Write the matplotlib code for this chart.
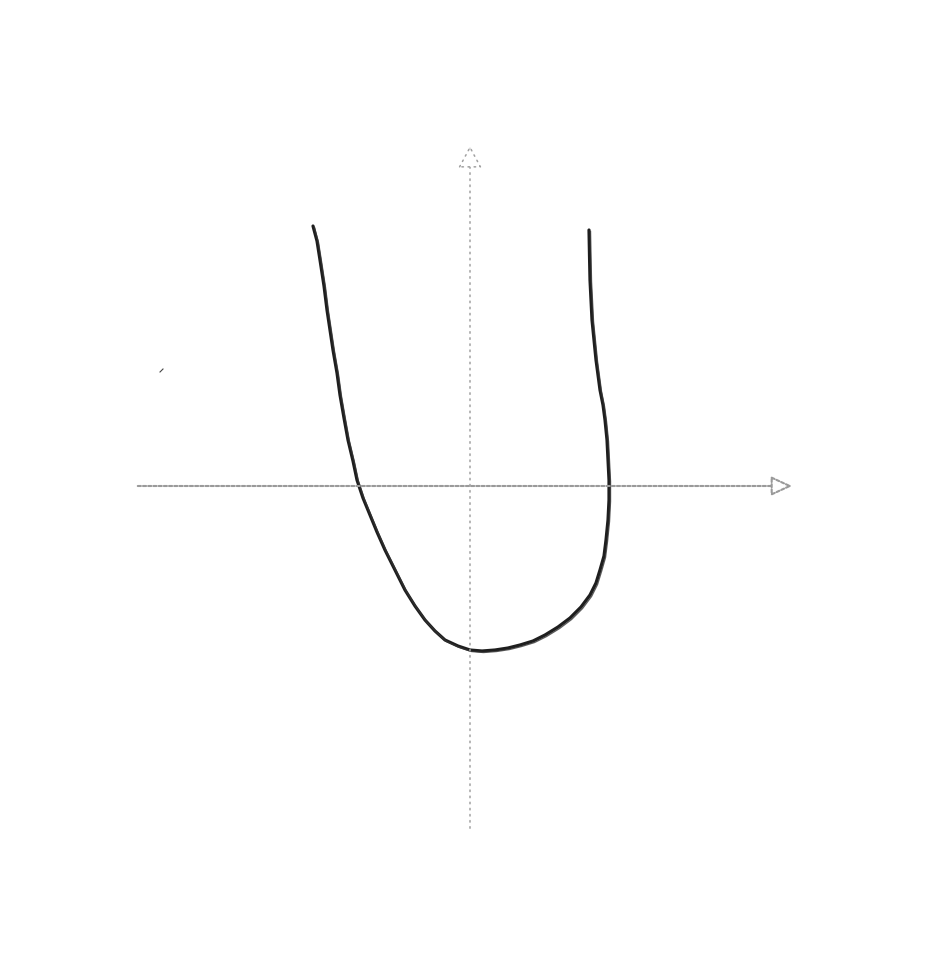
import numpy as np
import matplotlib.pyplot as plt

# --------- Sketched curve (origin at the axis crossing) ---------
curve_x = [-1.57, -1.53, -1.50, -1.46, -1.43, -1.40, -1.37, -1.33, -1.30, -1.26, -1.22,
           -1.17, -1.13, -1.07, -1.00, -0.93, -0.85, -0.75, -0.65, -0.55, -0.45, -0.35,
           -0.25, -0.12, 0.00, 0.12, 0.25, 0.38, 0.50, 0.63, 0.75, 0.88, 1.00, 1.11,
           1.20, 1.26, 1.30, 1.34, 1.36, 1.38, 1.39, 1.39, 1.38, 1.37, 1.35, 1.33,
           1.30, 1.28, 1.26, 1.24, 1.22, 1.21, 1.20, 1.195, 1.19]
curve_y = [2.60, 2.45, 2.26, 2.00, 1.76, 1.56, 1.36, 1.13, 0.91, 0.68, 0.46,
           0.25, 0.06, -0.12, -0.29, -0.46, -0.64, -0.84, -1.04, -1.20, -1.34, -1.45,
           -1.54, -1.60, -1.64, -1.65, -1.64, -1.62, -1.59, -1.55, -1.49, -1.41, -1.32, -1.21,
           -1.09, -0.97, -0.84, -0.70, -0.54, -0.34, -0.14, 0.06, 0.26, 0.46, 0.66, 0.81,
           0.96, 1.11, 1.26, 1.46, 1.66, 1.86, 2.06, 2.30, 2.56]

# axis extents
x_axis = [-3.35, 3.25]
y_axis = [-3.45, 3.43]

fig = plt.figure(figsize=(9.4, 9.64), dpi=100)
ax = fig.add_axes([0, 0, 1, 1])
ax.set_xlim(-4.70, 4.70)
ax.set_ylim(-4.78, 4.86)
ax.axis('off')

# --------- Axes (dotted, hollow arrow heads) ---------
axis_col = '#9a9a9a'
ax.annotate('', xy=(x_axis[1], 0), xytext=(x_axis[0], 0),
            arrowprops=dict(arrowstyle='-|>,head_length=1.3,head_width=0.6',
                            linestyle=(0, (1.5, 1)), lw=1.5, ec=axis_col, fc='white'))
ax.annotate('', xy=(0, y_axis[1]), xytext=(0, y_axis[0]),
            arrowprops=dict(arrowstyle='-|>,head_length=1.4,head_width=0.75',
                            linestyle=(0, (1, 3)), lw=1.1, ec='#a0a0a0', fc='white'))

# --------- Curve (double stroke for a hand-drawn look) ---------
ax.plot(curve_x, curve_y, color='#1e1e1e', lw=2.3, solid_capstyle='round')
ax.plot(np.array(curve_x) + 0.015, np.array(curve_y) - 0.015, color='#333333', lw=1.0, alpha=0.8)

# stray pencil mark
ax.plot([-3.10, -3.07], [1.14, 1.17], color='#444444', lw=0.8)

plt.savefig('out.png', dpi=100, facecolor='white')
